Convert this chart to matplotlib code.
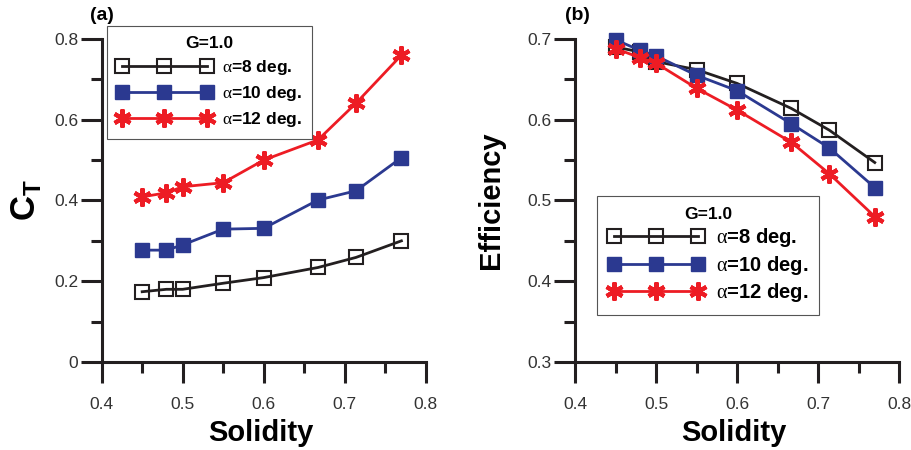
import numpy as np
import matplotlib
matplotlib.use('Agg')
import matplotlib.pyplot as plt
from matplotlib.ticker import MultipleLocator

plt.rcParams['font.family'] = ['Liberation Sans', 'DejaVu Sans']
plt.rcParams['mathtext.fontset'] = 'custom'
plt.rcParams['mathtext.rm'] = 'Liberation Serif'
plt.rcParams['mathtext.bf'] = 'Liberation Sans:bold'

# Данные
solidity = [0.45, 0.48, 0.5, 0.55, 0.6, 0.667, 0.714, 0.77]
ct_a8 = [0.174, 0.180, 0.180, 0.195, 0.209, 0.234, 0.259, 0.300]
ct_a10 = [0.277, 0.277, 0.290, 0.329, 0.331, 0.401, 0.424, 0.506]
ct_a12 = [0.409, 0.419, 0.434, 0.444, 0.500, 0.550, 0.641, 0.760]
eff_a8 = [0.690, 0.684, 0.672, 0.662, 0.645, 0.614, 0.587, 0.547]
eff_a10 = [0.699, 0.686, 0.679, 0.655, 0.636, 0.595, 0.565, 0.516]
eff_a12 = [0.688, 0.677, 0.670, 0.639, 0.612, 0.572, 0.533, 0.480]
labels = [r'$\mathrm{\alpha}$=8 deg.', r'$\mathrm{\alpha}$=10 deg.', r'$\mathrm{\alpha}$=12 deg.']

black = '#231F20'
blue = '#2B3990'
red = '#ED1C24'
asterisk = (6, 2, 0)


def draw_series(ax, ys):
    ax.plot(solidity, ys[0], color=black, lw=2.0, marker='s', ms=9.5,
            mfc='none', mec=black, mew=1.5, label=labels[0])
    ax.plot(solidity, ys[1], color=blue, lw=2.0, marker='s', ms=10.5,
            mfc=blue, mec=blue, label=labels[1])
    ax.plot(solidity, ys[2], color=red, lw=2.0, marker=asterisk, ms=13,
            mec=red, mew=3.0, label=labels[2])


def style_axes(ax):
    for s in ['top', 'right']:
        ax.spines[s].set_visible(False)
    for s in ['left', 'bottom']:
        ax.spines[s].set_linewidth(2.2)
        ax.spines[s].set_color(black)
    ax.set_xlim(0.4, 0.8)
    ax.xaxis.set_major_locator(MultipleLocator(0.1))
    ax.xaxis.set_minor_locator(MultipleLocator(0.05))
    ax.tick_params(which='both', direction='out', width=2.2, color=black,
                   labelsize=12.5, labelcolor='#333333')
    ax.tick_params(which='major', length=15)
    ax.tick_params(which='minor', length=8)
    ax.tick_params(axis='x', which='major', pad=10)
    ax.tick_params(axis='y', which='major', pad=2)
    ax.set_xlabel('Solidity', fontsize=21, fontweight='bold')
    ax.xaxis.set_label_coords(0.49, -0.175)


def add_legend(ax, anchor, size, spacing):
    leg = ax.legend(loc='upper left', bbox_to_anchor=anchor, borderaxespad=0,
                    title='G=1.0', numpoints=3, handlelength=5.5 * 12.5 / size,
                    fancybox=False, framealpha=1, edgecolor='#555555',
                    prop={'size': size, 'weight': 'bold'},
                    title_fontproperties={'size': 12.5, 'weight': 'bold'},
                    borderpad=0.55, labelspacing=spacing, handletextpad=0.6)
    leg.get_frame().set_linewidth(0.8)
    return leg


fig = plt.figure(figsize=(9.11, 4.5), dpi=100)
ax1 = fig.add_axes([0.1116, 0.1956, 0.3557, 0.7178])
ax2 = fig.add_axes([0.6312, 0.1956, 0.3557, 0.7178])

# (a) коэффициент тяги
draw_series(ax1, [ct_a8, ct_a10, ct_a12])
style_axes(ax1)
ax1.set_ylim(0, 0.8)
ax1.yaxis.set_minor_locator(MultipleLocator(0.1))
ax1.set_yticks([0, 0.2, 0.4, 0.6, 0.8], ['0', '0.2', '0.4', '0.6', '0.8'])
ax1.set_ylabel(r'$\mathbf{C}_\mathbf{T}$', fontsize=25)
ax1.yaxis.set_label_coords(-0.18, 0.5)
add_legend(ax1, (0.016, 1.04), 12.5, 0.42)

# (b) КПД
draw_series(ax2, [eff_a8, eff_a10, eff_a12])
style_axes(ax2)
ax2.set_ylim(0.3, 0.7)
ax2.yaxis.set_major_locator(MultipleLocator(0.1))
ax2.yaxis.set_minor_locator(MultipleLocator(0.05))
ax2.set_ylabel('Efficiency', fontsize=21, fontweight='bold')
ax2.yaxis.set_label_coords(-0.215, 0.5)
add_legend(ax2, (0.068, 0.514), 14.5, 0.22)

for a in (ax1, ax2):
    for line in a.get_lines():
        line.set_clip_on(False)

fig.text(90 / 911, 1 - 16 / 450, '(a)', fontsize=14, fontweight='bold', va='center')
fig.text(565 / 911, 1 - 16 / 450, '(b)', fontsize=14, fontweight='bold', va='center')

fig.savefig('out.png', dpi=100)
